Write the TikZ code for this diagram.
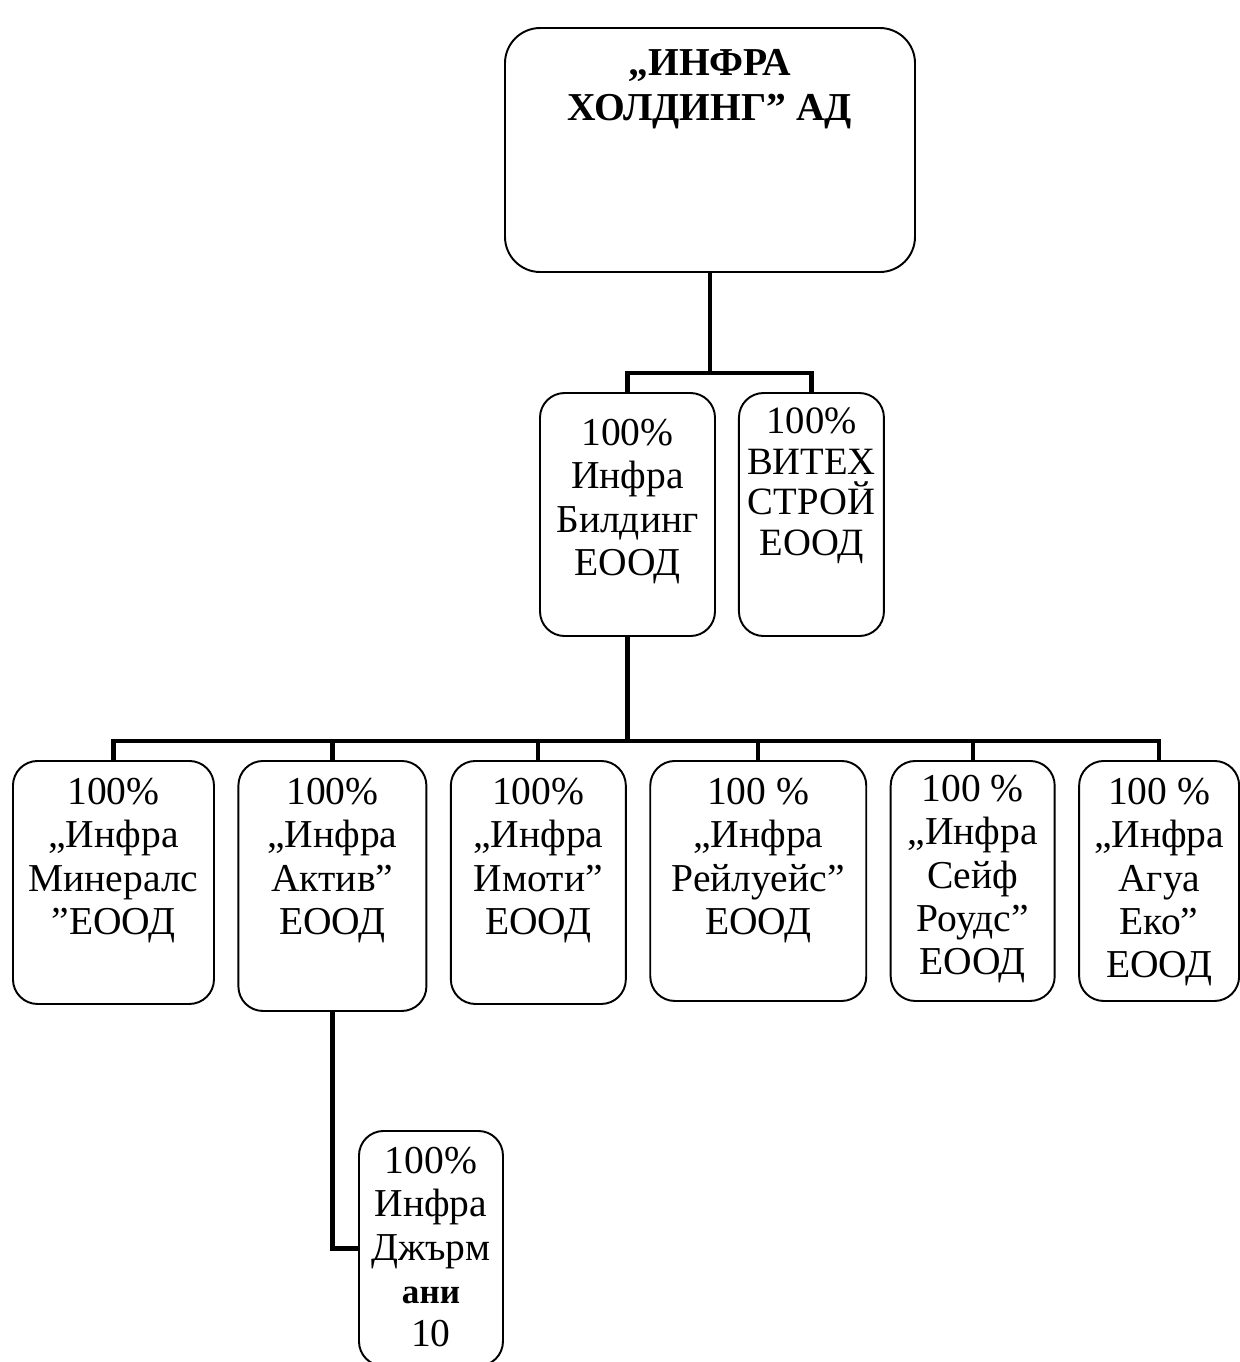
\documentclass[tikz,border=0pt]{standalone}
\usepackage{fontspec}
\setmainfont{Liberation Serif}
\usetikzlibrary{positioning}
\tikzset{
    firm/.style={
        rectangle,
        draw=black,
        line width=1.1pt,
        rounded corners=14pt,
        inner sep=0pt,
        fill=white
    },
    firmlabel/.style={
        anchor=north,
        align=center,
        inner sep=0pt,
        font=\fontsize{22.5}{24.6}\selectfont
    },
    link/.style={
        draw=black,
        line width=2.4pt
    }
}

\begin{document}
\begin{tikzpicture}
\useasboundingbox (0,0) rectangle (24.8,-27.24);

% Holding
\node[firm, minimum width=8.2cm, minimum height=4.88cm, rounded corners=20pt] (hold) at (14.2,-3.0) {};
\node[firmlabel, font=\fontsize{22.5}{25.5}\selectfont\bfseries, below=0.44cm of hold.north] (hold-t) {„ИНФРА\\ХОЛДИНГ” АД};

% First level
\node[firm, minimum width=3.5cm, minimum height=4.86cm] (bild) at (12.55,-10.29) {};
\node[firm, minimum width=2.9cm, minimum height=4.86cm, right=0.44cm of bild.north east, anchor=north west] (vitex) {};
\node[firmlabel, below=0.54cm of bild.north] (bild-t) {100\%\\Инфра\\Билдинг\\ЕООД};
\node[firmlabel, font=\fontsize{22}{23.3}\selectfont, below=0.3cm of vitex.north] (vitex-t) {100\%\\ВИТЕХ\\СТРОЙ\\ЕООД};

\draw[link] (hold.south) -- ++(0,-2.0) coordinate (fork1);
\draw[link] (bild.north) |- (fork1) -| (vitex.north);

% Second level
\node[firm, minimum width=4.02cm, minimum height=4.86cm, anchor=north west] (mineral) at (0.24,-15.2) {};
\node[firm, minimum width=3.76cm, minimum height=5.0cm, right=0.45cm of mineral.north east, anchor=north west] (aktiv) {};
\node[firm, minimum width=3.5cm, minimum height=4.86cm, right=0.45cm of aktiv.north east, anchor=north west] (imoti) {};
\node[firm, minimum width=4.32cm, minimum height=4.8cm, right=0.45cm of imoti.north east, anchor=north west] (rail) {};
\node[firm, minimum width=3.28cm, minimum height=4.8cm, right=0.45cm of rail.north east, anchor=north west] (safe) {};
\node[firm, minimum width=3.2cm, minimum height=4.8cm, right=0.45cm of safe.north east, anchor=north west] (agua) {};

\node[firmlabel, below=0.36cm of mineral.north] (mineral-t) {100\%\\„Инфра\\Минералс\\”ЕООД};
\node[firmlabel, below=0.36cm of aktiv.north] (aktiv-t) {100\%\\„Инфра\\Актив”\\ЕООД};
\node[firmlabel, below=0.36cm of imoti.north] (imoti-t) {100\%\\„Инфра\\Имоти”\\ЕООД};
\node[firmlabel, below=0.36cm of rail.north] (rail-t) {100 \%\\„Инфра\\Рейлуейс”\\ЕООД};
\node[firmlabel, below=0.3cm of safe.north] (safe-t) {100 \%\\„Инфра\\Сейф\\Роудс”\\ЕООД};
\node[firmlabel, below=0.36cm of agua.north] (agua-t) {100 \%\\„Инфра\\Агуа\\Еко”\\ЕООД};

\draw[link] (bild.south) -- ++(0,-2.08) coordinate (fork2);
\foreach \f in {mineral,aktiv,imoti,rail,safe,agua}
    \draw[link] (\f.north) |- (fork2);

% Third level
\node[firm, minimum width=2.88cm, minimum height=4.7cm, anchor=north west] (germ) at (7.16,-22.6) {};
\node[firmlabel, below=0.34cm of germ.north] (germ-t) {100\%\\Инфра\\Джърм\\{\bfseries\fontsize{20}{24.6}\selectfont ани}\\10};

\draw[link] (aktiv.south) |- (germ.west);

\end{tikzpicture}
\end{document}
